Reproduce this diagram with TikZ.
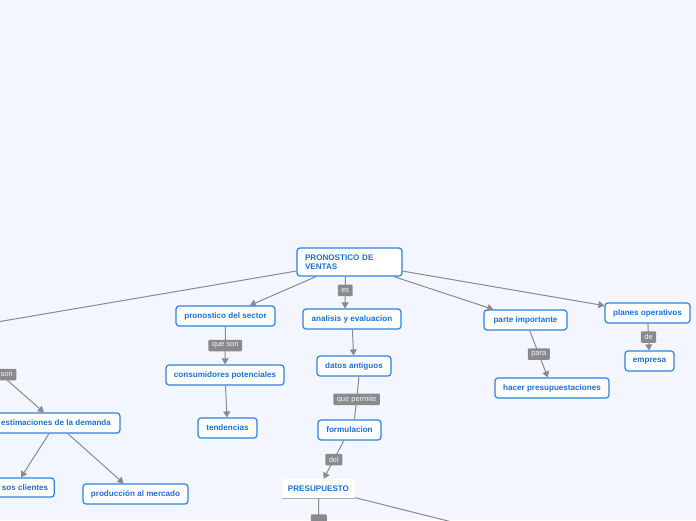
\documentclass[tikz,border=0pt]{standalone}
\usepackage{fontspec}
\setmainfont{Liberation Sans}
\usetikzlibrary{arrows.meta,positioning}
\definecolor{bgblue}{HTML}{F3F6FE}
\definecolor{nodeblue}{HTML}{2C82E0}
\definecolor{txtblue}{HTML}{1C70D4}
\definecolor{lnkgray}{HTML}{8A8A8E}

\begin{document}
\begin{tikzpicture}[x=1pt, y=-1pt,
  box/.style={draw=nodeblue, line width=1.2pt, rounded corners=3pt, fill=white,
              minimum height=20pt, inner xsep=6pt, text=txtblue,
              font=\fontsize{8.1}{9.5}\selectfont\bfseries},
  root/.style={box, minimum width=105pt, minimum height=28pt, inner xsep=8pt,
               text width=89pt, align=left},
  plain/.style={fill=white, minimum height=19pt, text=txtblue,
                font=\fontsize{8.1}{9.5}\selectfont\bfseries},
  arr/.style={-{Triangle[length=6pt, width=7pt]}, lnkgray, line width=1pt},
  lnk/.style={lnkgray, line width=1pt},
  lbl/.style={fill=lnkgray, text=white!92!gray, rounded corners=1pt,
              inner xsep=3.5pt, inner ysep=1.5pt, minimum height=11.5pt,
              font=\fontsize{7.5}{8}\selectfont},
]
\useasboundingbox (0,0) rectangle (696,520);
\clip (0,0) rectangle (696,520);
\fill[bgblue] (0,0) rectangle (696,520);

% main topic and first level
\node[root] (root) at (349.5,262) {PRONOSTICO DE\\VENTAS};
\node[box, minimum width=99pt] (sector) at (225.5,316) {pronostico del sector};
\node[box, minimum width=98pt] (anal) at (352,319) {analisis y evaluacion};
\node[box, minimum width=83pt] (parte) at (525.5,320) {parte importante};
\node[box, minimum width=85pt] (planes) at (647.5,313) {planes operativos};
\coordinate (lefthub) at (-50,330);

% second level
\node[box, minimum width=118pt] (consum) at (225,375) {consumidores potenciales};
\node[box, minimum width=74pt] (datos) at (354,366) {datos antiguos};
\node[box, minimum width=114pt] (hacer) at (552,388) {hacer presupuestaciones};
\node[box, minimum width=49pt] (empresa) at (649.5,361) {empresa};
\node[box, minimum width=128pt] (estim) at (56,423) {estimaciones de la demanda};

% third level
\node[box, minimum width=59pt] (tend) at (227.5,428) {tendencias};
\node[box, minimum width=63pt] (formul) at (349.5,430) {formulacion};
\node[box, minimum width=58pt, minimum height=19pt] (client) at (25,487.5) {sos clientes};
\node[box, minimum width=105pt] (prod) at (135.5,494) {producción al mercado};
\node[plain, minimum width=73pt] (presup) at (318.5,488.5) {PRESUPUESTO};
\draw[lnkgray!70, line width=0.8pt] (presup.south west) -- (presup.south east);
\coordinate (presdown) at (319,545);
\coordinate (presright) at (480,529);

% connectors
\draw[arr] (root) -- (lefthub);
\draw[arr] (root) -- (sector);
\draw[arr] ([xshift=-4pt]root.south) -- node[lbl, pos=0.43] {es} ([xshift=-7pt]anal.north);
\draw[arr] (root) -- (parte);
\draw[arr] (root) -- (planes);
\draw[arr] (sector) -- node[lbl] {que son} (consum);
\draw[arr] (consum) -- (tend);
\draw[arr] (anal) -- (datos);
\draw[lnk] ([xshift=5pt]datos.south) -- node[lbl, pos=0.53] {que permite} ([xshift=5pt]formul.north);
\draw[arr] (formul) -- node[lbl] {del} (presup);
\draw[arr] (parte) -- node[lbl] {para} (hacer);
\draw[arr] (planes) -- node[lbl] {de} (empresa);
\draw[arr] (lefthub) -- node[lbl, pos=0.54, xshift=6pt] {son} (estim);
\draw[arr] ([xshift=-7pt]estim.south) -- ([xshift=-4pt]client.north);
\draw[arr] (estim) -- (prod);
\draw[lnk] (presup) -- (presright);
\draw[arr] (presup) -- node[lbl, pos=0.47, minimum width=16pt] {} (presdown);
\end{tikzpicture}
\end{document}
